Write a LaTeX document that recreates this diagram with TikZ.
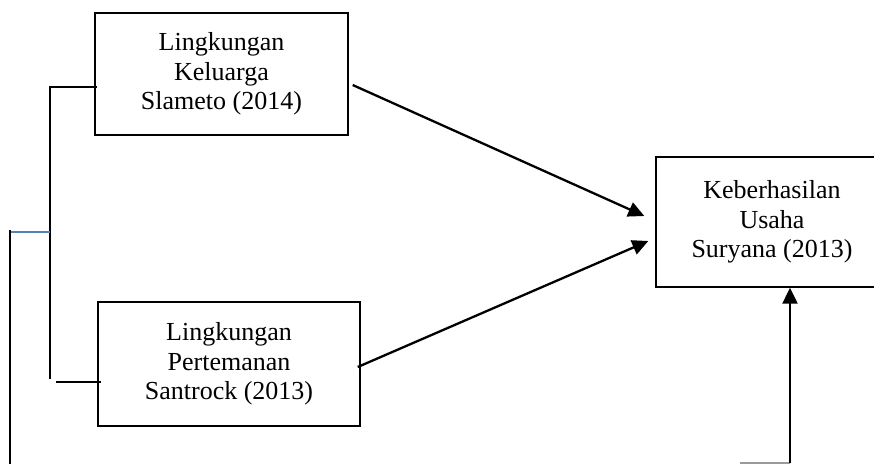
\documentclass[tikz,border=0pt]{standalone}
\usepackage{fontspec}
\setmainfont{Liberation Serif}
\usetikzlibrary{arrows.meta}
\definecolor{linkblue}{HTML}{4F81BD}
\definecolor{fadegray}{HTML}{9A9A9A}
\begin{document}
\begin{tikzpicture}[x=1pt,y=-1pt,
  box/.style={draw, line width=1.4pt, align=center,
    font=\fontsize{26}{29.5}\selectfont, inner sep=0pt},
  arr/.style={line width=2.3pt, -{Triangle[length=16pt,width=15pt]}},
  bracketline/.style={line width=1.5pt},
  tickline/.style={line width=2pt}]
\useasboundingbox (0,0) rectangle (874,464);

\node[box, minimum width=253pt, minimum height=122pt] (k1) at (221.5,74)
  {Lingkungan\\Keluarga\\Slameto (2014)};
\node[box, minimum width=262pt, minimum height=124pt] (k2) at (229,364)
  {Lingkungan\\Pertemanan\\Santrock (2013)};
\node[box, minimum width=232pt, minimum height=130pt] (k3) at (772,222)
  {Keberhasilan\\Usaha\\Suryana (2013)};

% bracket on the left
\coordinate (bt) at (50,86);
\coordinate (bb) at (50,379);
\coordinate (bm) at (50,232);
\coordinate (t1) at (97,87);
\coordinate (t2s) at (56,382);
\coordinate (t2) at (101,382);
\coordinate (lt) at (10,230);
\coordinate (lb) at (10,464);
\draw[bracketline] (bt) -- (bb);
\draw[tickline] (bt |- t1) -- (t1);
\draw[tickline] (t2s) -- (t2);
\draw[line width=1.2pt, linkblue] (lt |- bm) -- (bm);
\draw[bracketline] (lt) -- (lb);

% arrows into the outcome box
\draw[arr] ([xshift=4pt,yshift=-11pt]k1.east) -- ([xshift=-11pt,yshift=6pt]k3.west);
\draw[arr] ([xshift=-3pt,yshift=-3pt]k2.east) -- ([xshift=-7pt,yshift=-19pt]k3.west);

\coordinate (bl) at (740,463);
\coordinate (br) at (790,463);
\draw[line width=1.2pt, fadegray] (bl) -- (br);
\draw[arr] (br) -- ([xshift=18pt]k3.south);
\end{tikzpicture}
\end{document}
